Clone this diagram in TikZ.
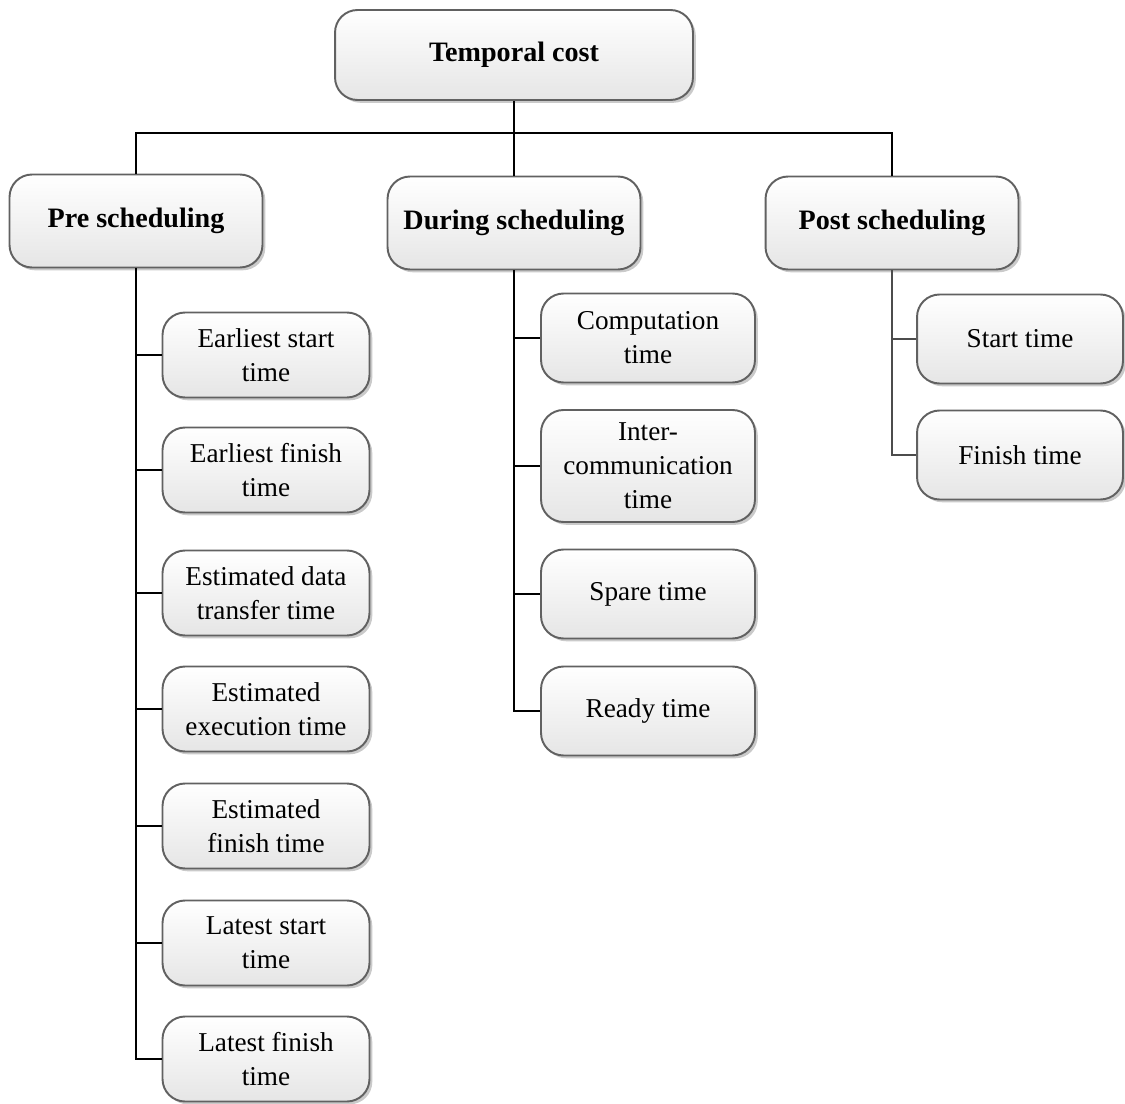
\documentclass[tikz,border=0pt]{standalone}
\usepackage{fontspec}
\setmainfont{Liberation Serif}
\usetikzlibrary{shadows}
\begin{document}
\begin{tikzpicture}[x=0.02cm,y=-0.02cm,
  box/.style={draw=black!62, line width=1.1pt, rounded corners=0.45cm,
    top color=white, bottom color=black!10, align=center, inner sep=2pt,
    drop shadow={shadow xshift=1.6pt, shadow yshift=-1.6pt, fill=black!35, opacity=0.6},
    font=\fontsize{15.5}{19.3}\selectfont},
  headbox/.style={box, font=\fontsize{16}{19.3}\selectfont\bfseries},
  topbox/.style={headbox, minimum width=7.16cm, minimum height=1.8cm},
  phasebox/.style={headbox, minimum width=5.06cm, minimum height=1.86cm},
  leafbox/.style={box, minimum width=4.14cm, minimum height=1.7cm},
  midleaf/.style={box, minimum width=4.28cm, minimum height=1.78cm},
  postleaf/.style={box, minimum width=4.12cm, minimum height=1.78cm},
  link/.style={draw=black, line width=1.6pt},
  postlink/.style={draw=black!70, line width=1.6pt}]
\useasboundingbox (0,0) rectangle (1125,1104);

% root and the three phases
\node[topbox] (root) at (514,55) {Temporal cost};
\node[phasebox] (pre) at (136,221) {Pre scheduling};
\node[phasebox] (during) at (514,223) {During scheduling};
\node[phasebox] (post) at (892,223) {Post scheduling};

% pre-scheduling items
\node[leafbox] (p1) at (266,355) {Earliest start\\time};
\node[leafbox] (p2) at (266,470) {Earliest finish\\time};
\node[leafbox] (p3) at (266,593) {Estimated data\\transfer time};
\node[leafbox] (p4) at (266,709) {Estimated\\execution time};
\node[leafbox] (p5) at (266,826) {Estimated\\finish time};
\node[leafbox] (p6) at (266,943) {Latest start\\time};
\node[leafbox] (p7) at (266,1059) {Latest finish\\time};

% during-scheduling items
\node[midleaf] (d1) at (648,338) {Computation\\time};
\node[midleaf, minimum height=2.24cm] (d2) at (648,466) {Inter-\\communication\\time};
\node[midleaf] (d3) at (648,594) {Spare time};
\node[midleaf] (d4) at (648,711) {Ready time};

% post-scheduling items
\node[postleaf] (q1) at (1020,339) {Start time};
\node[postleaf] (q2) at (1020,455) {Finish time};

% tree connectors
\coordinate (bus) at (514,133);
\draw[link] (root.south) -- (bus);
\draw[link] (pre.north) |- (bus) -| (post.north);
\draw[link] (bus) -- (during.north);

\draw[link] (pre.south) |- (p7.west);
\foreach \n in {p1,p2,p3,p4,p5,p6}
  \draw[link] (\n.west) -- (\n.west -| pre.south);

\draw[link] (during.south) |- (d4.west);
\foreach \n in {d1,d2,d3}
  \draw[link] (\n.west) -- (\n.west -| during.south);

\draw[postlink] (post.south) |- (q2.west);
\draw[postlink] (q1.west) -- (q1.west -| post.south);
\end{tikzpicture}
\end{document}
